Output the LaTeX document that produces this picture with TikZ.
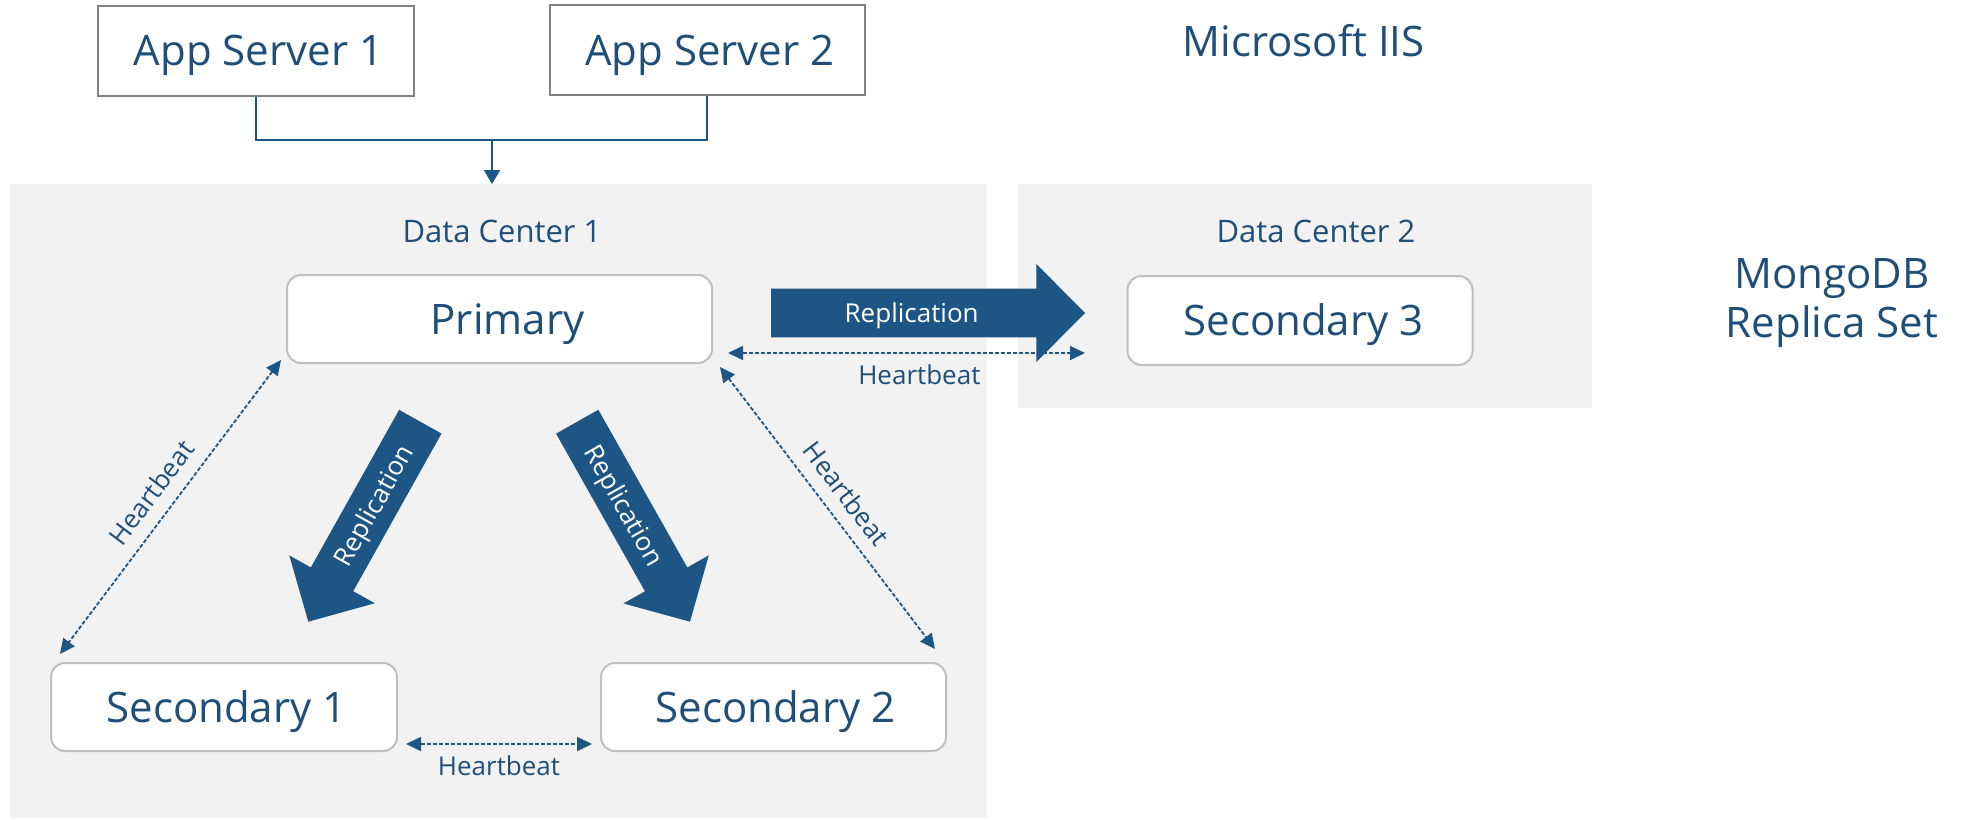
\documentclass[tikz,border=0pt]{standalone}
\usepackage{fontspec}
\setmainfont{Open Sans}
\usetikzlibrary{calc,arrows.meta}
\definecolor{txt}{HTML}{1F4E79}
\definecolor{fillb}{HTML}{1D5685}
\definecolor{bg}{HTML}{F2F2F2}
\definecolor{bord}{HTML}{BFBFBF}
\definecolor{asb}{HTML}{808080}
\newcommand\fatarrow[4]{%
  % #1 tail coordinate, #2 tip coordinate, #3 label node name, #4 head base name
  \coordinate (#4) at ($(#2)!48.6pt!(#1)$);
  \fill[fillb] ($(#1)!24.3pt!90:(#2)$) -- ($(#4)!24.3pt!-90:(#1)$) -- ($(#4)!49pt!-90:(#1)$) -- (#2)
     -- ($(#4)!49pt!90:(#1)$) -- ($(#4)!24.3pt!90:(#1)$) -- ($(#1)!24.3pt!-90:(#2)$) -- cycle;
  \path (#1) -- (#4) node[pos=0.53, sloped, repl] (#3) {Replication};
}
\newcommand\padl[1]{\hspace*{#1}}
\begin{document}
\begin{tikzpicture}[x=1pt,y=-1pt,
  big/.style={font=\fontsize{42}{49}\selectfont, text=txt},
  appbox/.style={big, draw=asb, line width=2pt, fill=white, inner sep=0pt,
    text height=30pt, text depth=0pt},
  dbbox/.style={big, draw=bord, line width=2pt, fill=white, rounded corners=14pt,
    inner sep=0pt, text height=30pt, text depth=0pt, minimum height=88pt},
  region/.style={fill=bg, inner sep=0pt, anchor=north west},
  dclab/.style={font=\fontsize{31}{36}\selectfont, text=txt, inner sep=0pt,
    text height=22pt, text depth=0pt},
  hblab/.style={font=\fontsize{26}{30}\selectfont, text=txt, inner sep=0pt,
    text height=18.6pt, text depth=0pt},
  repl/.style={font=\fontsize{26}{30}\selectfont, text=white, inner sep=0pt,
    text height=18.6pt, text depth=0pt},
  conn/.style={draw=fillb, line width=2pt},
  hbeat/.style={draw=fillb, line width=1.8pt, dash pattern=on 4pt off 2pt,
    {Triangle[length=15pt,width=14pt]}-{Triangle[length=15pt,width=14pt]}},
]
\useasboundingbox (0,0) rectangle (1972,819);
% regions
\node[region, minimum width=977pt, minimum height=634pt] (dc1) at (10,184) {};
\node[region, minimum width=574pt, minimum height=224pt] (dc2) at (1018,184) {};
\node[dclab] (dc1lab) at (502,231) {Data Center 1};
\node[dclab] (dc2lab) at (1316,231) {Data Center 2};
% app servers
\node[appbox, minimum width=316pt, minimum height=90pt] (as1) at (255.5,50.5) {\padl{6pt}App Server 1};
\node[appbox, minimum width=315pt, minimum height=90pt] (as2) at (707.3,50) {\padl{5pt}App Server 2};
\node[big, inner sep=0pt, text height=30pt, text depth=0pt] (iis) at (1303.5,41) {Microsoft IIS};
\node[big, inner sep=0pt, align=center, anchor=north] (mongo) at (1832,258) {MongoDB\\Replica Set};
% replica set members
\node[dbbox, minimum width=425pt] (prim) at (499.5,319) {\padl{16pt}Primary};
\node[dbbox, minimum width=346pt] (sec1) at (224,707) {\padl{5pt}Secondary 1};
\node[dbbox, minimum width=345pt] (sec2) at (773.5,707) {\padl{4pt}Secondary 2};
\node[dbbox, minimum width=345pt, minimum height=89pt] (sec3) at (1300,320.5) {\padl{7pt}Secondary 3};
% app server connector
\coordinate (j) at (492,140);
\draw[conn] (as1.south) |- (j) -| (as2.south);
\draw[conn, -{Triangle[length=14pt,width=16pt]}] (j) -- (j |- dc1.north);
% replication arrows
\coordinate (rt1) at ($(prim.east)+(58,-6)$);
\coordinate (rp1) at ($(rt1 -| sec3.west)+(-41.5,0)$);
\fatarrow{rt1}{rp1}{repl3}{rb1}
\coordinate (rt2) at ($(prim.south)+(-79.2,57.7)$);
\coordinate (rp2) at ($(sec1.north)+(84.3,-40.3)$);
\fatarrow{rt2}{rp2}{repl1}{rb2}
\coordinate (rt3) at ($(prim.south)+(77.7,57.7)$);
\coordinate (rp3) at ($(sec2.north)+(-83.5,-40.3)$);
\fatarrow{rt3}{rp3}{repl2}{rb3}
% heartbeats
\coordinate (h1a) at ($(prim.east)+(15,34)$);
\coordinate (h1b) at ($(h1a -| sec3.west)+(-41.5,0)$);
\draw[hbeat] (h1a) -- (h1b) node[pos=0.536, below=11.7pt, hblab] (hb3) {Heartbeat};
\coordinate (h2a) at ($(sec1.east)+(8,37)$);
\coordinate (h2b) at ($(sec2.west)+(-8,37)$);
\draw[hbeat] (h2a) -- (h2b) node[midway, below=11.7pt, hblab] (hb12) {Heartbeat};
\coordinate (h3a) at ($(prim.south west)+(-5,-4)$);
\coordinate (h3b) at ($(sec1.north west)+(10,-8)$);
\draw[hbeat] (h3a) -- (h3b) node[midway, sloped, above=13.3pt, hblab] (hbl) {Heartbeat};
\coordinate (h4a) at ($(prim.south east)+(7,3)$);
\coordinate (h4b) at ($(sec2.north east)+(-12,-13)$);
\draw[hbeat] (h4a) -- (h4b) node[midway, sloped, above=13pt, hblab] (hbr) {Heartbeat};
\end{tikzpicture}
\end{document}
